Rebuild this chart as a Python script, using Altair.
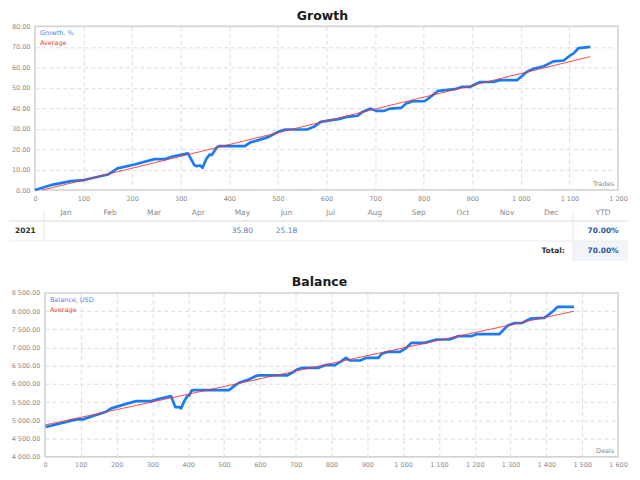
import altair as alt
import pandas as pd

FONT = "DejaVu Sans"

# ---------------- data ----------------
growth_trades = [0, 32, 74, 101, 150, 170, 205, 246, 267, 281, 315, 328, 332, 340, 345, 353, 360, 364,
                 374, 380, 432, 443, 460, 481, 501, 515, 560, 574, 588, 610, 625, 643, 664, 674, 691,
                 702, 719, 730, 754, 764, 778, 802, 816, 830, 864, 878, 895, 916, 943, 957, 992, 1012,
                 1026, 1047, 1067, 1088, 1102, 1108, 1119, 1143]
growth_pct = [0.0, 2.4, 4.4, 4.9, 7.6, 10.6, 12.5, 15.1, 15.1, 16.3, 17.9, 12.2, 11.7, 12.0, 10.9, 15.4,
              17.4, 17.1, 20.8, 21.5, 21.5, 23.3, 24.4, 26.0, 28.5, 29.6, 29.6, 30.9, 33.3, 34.2, 34.6,
              35.8, 36.3, 38.2, 39.8, 38.7, 38.7, 39.8, 40.2, 42.3, 43.4, 43.4, 45.9, 48.5, 49.3, 50.4,
              50.4, 52.8, 52.8, 53.7, 53.7, 57.7, 59.3, 60.5, 62.9, 63.3, 65.9, 66.7, 69.4, 70.0]
growth_avg_trades = [15, 1143]
growth_avg_pct = [0.0, 65.2]

balance_deals = [2, 51, 88, 106, 134, 171, 185, 222, 255, 296, 319, 352, 364, 375, 380, 389, 398, 403,
                 410, 417, 514, 528, 542, 569, 588, 597, 676, 690, 704, 719, 764, 782, 810, 828, 840,
                 852, 880, 898, 931, 940, 959, 991, 1009, 1023, 1060, 1093, 1130, 1153, 1190, 1204,
                 1269, 1292, 1310, 1333, 1356, 1394, 1407, 1421, 1431, 1477]
balance_usd = [4814, 4933, 5024, 5024, 5116, 5235, 5326, 5436, 5527, 5527, 5591, 5665, 5363, 5363, 5326,
               5527, 5665, 5683, 5820, 5829, 5829, 5939, 6031, 6122, 6213, 6232, 6232, 6305, 6396, 6442,
               6442, 6515, 6515, 6625, 6716, 6643, 6643, 6716, 6716, 6826, 6881, 6881, 6991, 7128, 7128,
               7220, 7220, 7311, 7311, 7366, 7366, 7604, 7668, 7677, 7796, 7814, 7906, 8015, 8116, 8116]
balance_avg_deals = [0, 1477]
balance_avg_usd = [4869, 7997]

months = ["Jan", "Feb", "Mar", "Apr", "May", "Jun", "Jul", "Aug", "Sep", "Oct", "Nov", "Dec"]
table_year = "2021"
value_months = ["May", "Jun"]
value_texts = ["35.80", "25.18"]
ytd_text = "70.00%"
total_label = "Total:"
total_text = "70.00%"

growth_x_ticks = list(range(0, 1201, 100))
growth_y_ticks = list(range(0, 81, 10))
balance_x_ticks = list(range(0, 1601, 100))
balance_y_ticks = list(range(4000, 8501, 500))

BLUE = "#1a7cf5"
RED = "#ff2b2b"
SEP_EXPR = "replace(format(datum.value, ','), ',', ' ')"
SEP2_EXPR = "replace(format(datum.value, ',.2f'), ',', ' ')"
PH = 164


def one():
    return pd.DataFrame({"d": [0]})


def spacer(w, h):
    return alt.Chart(one()).mark_rect(opacity=0).encode(
        x=alt.value(0), x2=alt.value(w), y=alt.value(0), y2=alt.value(h)).properties(
        width=w, height=h, view=alt.ViewBackground(strokeOpacity=0))


def panel(xs, ys, axs, ays, xdom, ydom, xticks, yticks, ylabel_expr, w, h,
          title, title_x, legend_name, corner_name):
    df = pd.DataFrame({"x": xs, "y": ys})
    adf = pd.DataFrame({"x": axs, "y": ays})
    xenc = alt.X("x:Q", scale=alt.Scale(domain=xdom, nice=False, zero=False),
                 axis=alt.Axis(values=xticks, labelExpr=SEP_EXPR, title=None))
    yenc = alt.Y("y:Q", scale=alt.Scale(domain=ydom, nice=False, zero=False),
                 axis=alt.Axis(values=yticks, labelExpr=ylabel_expr, title=None))
    line = alt.Chart(df).mark_line(color=BLUE, strokeWidth=2.7, strokeJoin="round").encode(x=xenc, y=yenc)
    avg = alt.Chart(adf).mark_line(color=RED, strokeWidth=1, opacity=0.85).encode(x=xenc, y=yenc)
    leg1 = alt.Chart(one()).mark_text(align="left", baseline="middle", font=FONT, fontSize=6.5,
                                      color="#4f86e8").encode(x=alt.value(5), y=alt.value(7),
                                                              text=alt.value(legend_name))
    leg2 = alt.Chart(one()).mark_text(align="left", baseline="middle", font=FONT, fontSize=6.5,
                                      color="#f03c3c").encode(x=alt.value(5), y=alt.value(17),
                                                              text=alt.value("Average"))
    corner = alt.Chart(one()).mark_text(align="right", baseline="middle", font=FONT, fontSize=6.5,
                                        color="#888888").encode(x=alt.value(w - 4), y=alt.value(h - 6),
                                                                text=alt.value(corner_name))
    ttl = alt.Chart(one()).mark_text(align="center", baseline="middle", font=FONT, fontSize=12.5,
                                     fontWeight="bold", color="#1a1a1a").encode(
        x=alt.value(title_x), y=alt.value(-10.5), text=alt.value(title))
    return alt.layer(line, avg, leg1, leg2, corner, ttl).properties(width=w, height=h)


growth = panel(growth_trades, growth_pct, growth_avg_trades, growth_avg_pct, [0, 1200], [0, 80],
               growth_x_ticks, growth_y_ticks, "format(datum.value, '.2f')", 584, PH,
               "Growth", 288, "Growth, %", "Trades")

balance = panel(balance_deals, balance_usd, balance_avg_deals, balance_avg_usd, [0, 1600], [4000, 8500],
                balance_x_ticks, balance_y_ticks, SEP2_EXPR, 574, PH,
                "Balance", 275, "Balance, USD", "Deals")

# ---------------- table (pixel layout, x from page left edge 8) ----------------
TW, TH = 624, 72
x_month = alt.X("month:N", scale=alt.Scale(type="point", domain=months, range=[57, 543], padding=0),
                axis=None)
bounds = alt.Chart(one()).mark_rect(opacity=0).encode(
    x=alt.value(0), x2=alt.value(TW), y=alt.value(0), y2=alt.value(TH))
total_bg = alt.Chart(one()).mark_rect(color="#f1f5fa").encode(
    x=alt.value(565), x2=alt.value(TW - 4), y=alt.value(38), y2=alt.value(58))
hline1 = alt.Chart(one()).mark_rule(color="#ececec", strokeWidth=2).encode(
    x=alt.value(0), x2=alt.value(TW - 4), y=alt.value(18))
hline2 = alt.Chart(one()).mark_rule(color="#ececec", strokeWidth=1).encode(
    x=alt.value(0), x2=alt.value(TW - 4), y=alt.value(38))
vline1 = alt.Chart(one()).mark_rule(color="#e6e6e6", strokeWidth=1).encode(
    x=alt.value(35), y=alt.value(7), y2=alt.value(38))
vline2 = alt.Chart(one()).mark_rule(color="#e6e6e6", strokeWidth=1).encode(
    x=alt.value(565), y=alt.value(7), y2=alt.value(58))
header = alt.Chart(pd.DataFrame({"month": months})).mark_text(
    font=FONT, fontSize=7.5, color="#8a8a8a", baseline="middle").encode(
    x=x_month, y=alt.value(10), text="month:N")
ytd_head = alt.Chart(one()).mark_text(font=FONT, fontSize=7.5, color="#8a8a8a", baseline="middle").encode(
    x=alt.value(595), y=alt.value(10), text=alt.value("YTD"))
year = alt.Chart(one()).mark_text(font=FONT, fontSize=7.5, color="#333333", fontWeight="bold",
                                  align="left", baseline="middle").encode(
    x=alt.value(6), y=alt.value(28), text=alt.value(table_year))
vals = alt.Chart(pd.DataFrame({"month": value_months, "v": value_texts})).mark_text(
    font=FONT, fontSize=7.5, color="#5d80b6", baseline="middle").encode(
    x=x_month, y=alt.value(28), text="v:N")
ytd = alt.Chart(one()).mark_text(font=FONT, fontSize=7.5, color="#2b579e", fontWeight="bold",
                                 baseline="middle").encode(
    x=alt.value(595), y=alt.value(28), text=alt.value(ytd_text))
tot_l = alt.Chart(one()).mark_text(font=FONT, fontSize=7.5, color="#333333", fontWeight="bold",
                                   baseline="middle").encode(
    x=alt.value(545), y=alt.value(48), text=alt.value(total_label))
tot_v = alt.Chart(one()).mark_text(font=FONT, fontSize=7.5, color="#2b579e", fontWeight="bold",
                                   baseline="middle").encode(
    x=alt.value(595), y=alt.value(48), text=alt.value(total_text))

table = alt.layer(bounds, total_bg, hline1, hline2, vline1, vline2, header, ytd_head, year, vals,
                  ytd, tot_l, tot_v).properties(width=TW, height=TH,
                                                view=alt.ViewBackground(strokeOpacity=0))

row1 = alt.hconcat(spacer(1, PH), growth, spacing=0)
row3 = alt.hconcat(spacer(1, PH), balance, spacing=0)

chart = alt.vconcat(row1, table, row3, spacing=0).properties(
    padding={"left": 0, "top": 0, "right": 0, "bottom": 0}
).configure_axis(
    labelFont=FONT, labelFontSize=6.5, labelColor="#8a8a8a", domain=False, ticks=False,
    gridColor="#dcdcdc", gridDash=[4, 3], gridWidth=1, labelPadding=5,
    labelFlush=False, labelOverlap=False,
).configure_view(stroke="#cfcfcf", strokeWidth=1.5)

chart.save("out.html", embed_options={"renderer": "svg", "actions": False})
